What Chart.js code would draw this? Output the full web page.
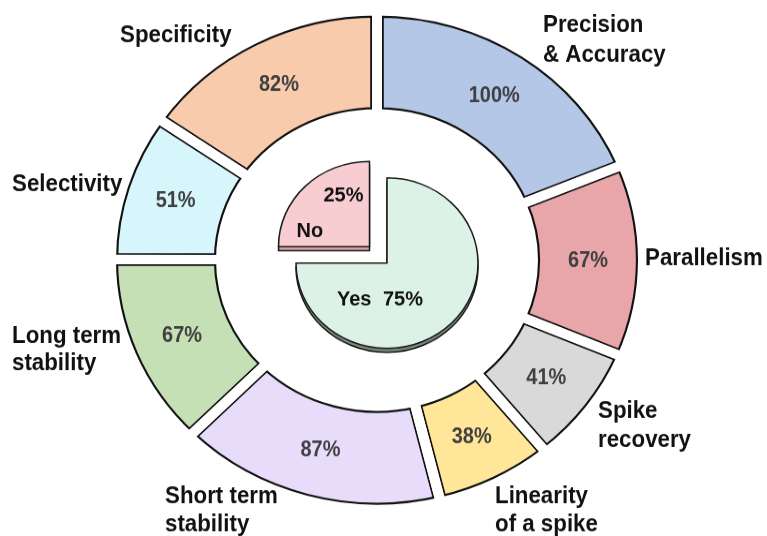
<!DOCTYPE html>
<html><head><meta charset="utf-8">
<script src="https://cdn.jsdelivr.net/npm/chart.js@4/dist/chart.umd.min.js"></script>
<style>
html,body{margin:0;padding:0;background:#fff;}
body{width:767px;height:536px;overflow:hidden;position:relative;}
.wrap{position:absolute;left:0;top:0;width:767px;height:572px;transform:scaleY(0.937);transform-origin:0 0;}
</style></head><body>
<div class="wrap" id="wDepth" style="top:4px"><canvas id="cDepth"></canvas></div>
<div class="wrap" id="wPie"><canvas id="cPie"></canvas></div>
<div class="wrap" id="wRingA"><canvas id="cRingA"></canvas></div>
<div class="wrap" id="wRingB"><canvas id="cRingB"></canvas></div>
<script>
// ---- data ----
const categories = ['Precision & Accuracy','Parallelism','Spike recovery','Linearity of a spike','Short term stability','Long term stability','Selectivity','Specificity'];
const percentages = [100, 67, 41, 38, 87, 67, 51, 82];
const answerLabels = ['Yes', 'No'];
const answerShares = [75, 25];

// ---- styles ----
const SY = 0.937;          // vertical squash of the picture
const GAP = 10;            // white gap between ring segments
const ringColors = ['#b4c7e7','#e8a6aa','#d9d9d9','#ffe699','#e8dcfb','#c5e0b4','#d6f6fc','#f8cbad'];
const pieColors = ['#dcf2e6','#f7cdd1'];
const depthColors = ['#76857d','#d9a2a8'];
// category name label placement (display px, left aligned, baselines)
const nameLayout = [
  {x:543, y:[32,62], lines:['Precision','& Accuracy']},
  {x:645, y:[265], lines:['Parallelism']},
  {x:598, y:[418,447], lines:['Spike','recovery']},
  {x:495, y:[503,531], lines:['Linearity','of a spike']},
  {x:165, y:[503,531], lines:['Short term','stability']},
  {x:12,  y:[343,370], lines:['Long term','stability']},
  {x:12,  y:[191], lines:['Selectivity']},
  {x:120, y:[42], lines:['Specificity']}
];

function drawText(ctx, txt, x, yDisp, font, color, align, baseline, sx, sy) {
  ctx.save();
  ctx.translate(x, yDisp / SY);
  ctx.scale(sx || 1, (sy || 1) / SY);
  ctx.font = font; ctx.fillStyle = color;
  ctx.textAlign = align; ctx.textBaseline = baseline;
  ctx.fillText(txt, 0, 0);
  ctx.restore();
}

const ringLabels = {
  id: 'ringLabels',
  afterDatasetsDraw(chart) {
    const ctx = chart.ctx;
    const meta = chart.getDatasetMeta(0);
    meta.data.forEach((arc, i) => {
      const p = arc.tooltipPosition();
      drawText(ctx, percentages[i] + '%', p.x, p.y * SY, 'bold 21px "Liberation Sans", Arial, sans-serif', '#404040', 'center', 'middle', 0.95, 1.07);
    });
    nameLayout.forEach((l) => {
      l.lines.forEach((t, j) => drawText(ctx, t, l.x, l.y[j], 'bold 23px "Liberation Sans", Arial, sans-serif', '#111', 'left', 'alphabetic', 0.97, 1.05));
    });
  }
};

const pieLabels = {
  id: 'pieLabels',
  afterDatasetsDraw(chart) {
    const ctx = chart.ctx;
    const meta = chart.getDatasetMeta(0);
    const yes = meta.data[0], no = meta.data[1];
    const f = 'bold 20px "Liberation Sans", Arial, sans-serif';
    const yc = yes.getProps(['x','y']);
    const nc = no.getProps(['x','y']);
    const shift = (no.options.offset / 4) / Math.SQRT2;
    const yx = yc.x, yy = yc.y * SY;
    const nx = nc.x - shift, ny = (nc.y - shift) * SY;
    drawText(ctx, answerLabels[0], yx - 50, yy + 42, f, '#111', 'left', 'alphabetic', 1, 1.05);
    drawText(ctx, answerShares[0] + '%', yx - 4, yy + 42, f, '#111', 'left', 'alphabetic', 1, 1.05);
    drawText(ctx, answerShares[1] + '%', nx - 6, ny - 45, f, '#111', 'right', 'alphabetic', 1, 1.05);
    drawText(ctx, answerLabels[1], nx - 73, ny - 10, f, '#111', 'left', 'alphabetic', 1, 1.05);
  }
};

Chart.defaults.font.family = '"Liberation Sans", Arial, sans-serif';

const OUTER = 261 + GAP / 2, INNER = 161 - GAP / 2;
function ringConfig(fill, border, bw, align, withLabels) {
  return {
    type: 'doughnut',
    data: { labels: categories, datasets: [{ data: percentages, backgroundColor: fill, borderColor: border, borderWidth: bw, borderAlign: align, borderJoinStyle: 'miter' }] },
    options: {
      responsive: true, maintainAspectRatio: false, animation: false,
      radius: OUTER, cutout: (INNER / OUTER * 100) + '%',
      layout: { padding: { left: 0, right: 13, top: 0, bottom: 17 } },
      plugins: { legend: { display: false }, tooltip: { enabled: false } }
    },
    plugins: withLabels ? [ringLabels] : []
  };
}
new Chart(document.getElementById('cRingA'), ringConfig(ringColors, '#111', GAP / 2 + 1.8, 'inner', false));
new Chart(document.getElementById('cRingB'), ringConfig('rgba(0,0,0,0)', '#ffffff', GAP, 'center', true));

function pieConfig(colors, withLabels) {
  return {
    type: 'pie',
    data: { labels: answerLabels, datasets: [{ data: answerShares, backgroundColor: colors, borderColor: '#1a1a1a', borderWidth: 1.5, borderJoinStyle: 'miter', offset: [0, 99] }] },
    options: {
      responsive: true, maintainAspectRatio: false, animation: false,
      radius: 91,
      layout: { padding: { left: 7, right: 0, top: 0, bottom: 10.6 } },
      plugins: { legend: { display: false }, tooltip: { enabled: false } }
    },
    plugins: withLabels ? [pieLabels] : []
  };
}
new Chart(document.getElementById('cDepth'), pieConfig(depthColors, false));
new Chart(document.getElementById('cPie'), pieConfig(pieColors, true));
</script>
</body></html>
